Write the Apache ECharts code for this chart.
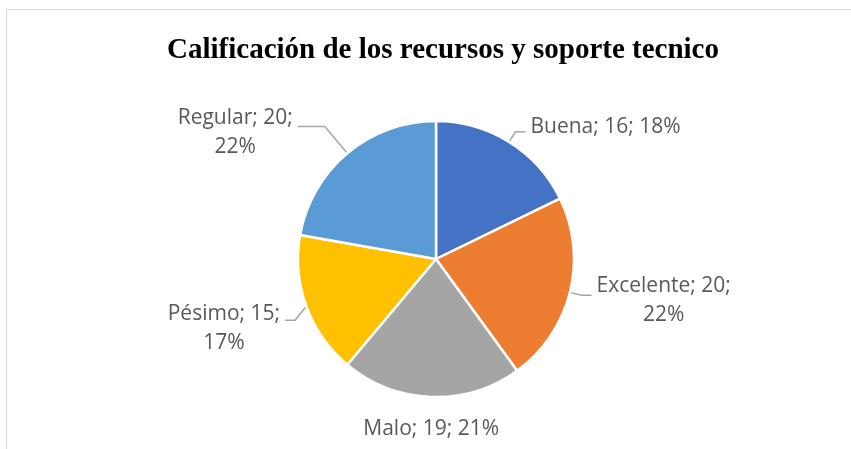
<!DOCTYPE html>
<html lang="es" style="height: 100%">
<head>
  <meta charset="utf-8">
</head>
<body style="height: 100%; margin: 0; background: #fff">
  <div id="container" style="width: 851px; height: 449px;"></div>

  <script type="text/javascript" src="https://cdn.jsdelivr.net/npm/echarts@6/dist/echarts.min.js"></script>

  <script type="text/javascript">
    var categories = ['Buena', 'Excelente', 'Malo', 'Pésimo', 'Regular'];
    var values = [16, 20, 19, 15, 20];
    var colors = ['#4472C4', '#ED7D31', '#A5A5A5', '#FFC000', '#5B9BD5'];

    // small label placement tweaks (like Excel's "best fit")
    var lineTweaks = { 'Regular': { length: 35, length2: 27 } };
    var labelNudge = { 'Buena': [-5, 0], 'Excelente': [5, 0], 'Pésimo': [18, 10], 'Regular': [6, 0] };

    var dom = document.getElementById('container');
    var myChart = echarts.init(dom, null, { renderer: 'canvas' });

    var pieData = [];
    for (var i = 0; i < categories.length; i++) {
      var item = { name: categories[i], value: values[i], itemStyle: { color: colors[i] } };
      if (lineTweaks[categories[i]]) item.labelLine = lineTweaks[categories[i]];
      if (categories[i] === 'Malo') item.labelLine = { show: false };
      pieData.push(item);
    }

    var option = {
      backgroundColor: '#fff',
      animation: false,
      title: {
        text: 'Calificación de los recursos y soporte tecnico',
        left: 438,
        top: 31,
        textAlign: 'center',
        textStyle: {
          fontFamily: '"Liberation Serif", "Times New Roman", serif',
          fontWeight: 'bold',
          fontSize: 29,
          color: '#000'
        }
      },
      graphic: [{
        type: 'rect',
        shape: { x: 6.5, y: 9.5, width: 900, height: 500 },
        style: { fill: 'none', stroke: '#d9d9d9', lineWidth: 1 },
        silent: true
      }],
      series: [{
        type: 'pie',
        center: [436, 259],
        radius: 138,
        startAngle: 90,
        clockwise: true,
        percentPrecision: 0,
        itemStyle: { borderColor: '#fff', borderWidth: 2.5 },
        label: {
          show: true,
          position: 'outside',
          color: '#595959',
          fontFamily: '"Open Sans", sans-serif',
          fontSize: 21,
          lineHeight: 29,
          formatter: function (p) {
            var s = p.name + '; ' + p.value + ';';
            var full = s + ' ' + p.percent + '%';
            var txt = full.length > 14 ? s + '\n' + p.percent + '%' : full;
            return txt.split('\n').map(function (t) { return '{c|' + t + '}'; }).join('\n');
          },
          rich: {
            c: { align: 'center', color: '#595959', fontFamily: '"Open Sans", sans-serif', fontSize: 21, lineHeight: 29 }
          }
        },
        labelLine: {
          show: true,
          length: 12,
          length2: 10,
          lineStyle: { color: '#A6A6A6', width: 1.5 }
        },
        labelLayout: function (p) {
          var name = categories[p.dataIndex];
          var pts = p.labelLinePoints;
          if (name === 'Malo' && pts) {
            return { x: pts[0][0], y: pts[0][1] + 32, align: 'center' };
          }
          var n = labelNudge[name];
          if (n && pts) {
            return {
              dy: n[0],
              labelLinePoints: [pts[0], [pts[1][0], pts[1][1] + n[1]], [pts[2][0], pts[2][1] + n[1]]]
            };
          }
          return {};
        },
        data: pieData
      }]
    };

    myChart.setOption(option);
    window.addEventListener('resize', myChart.resize);
  </script>
</body>
</html>
